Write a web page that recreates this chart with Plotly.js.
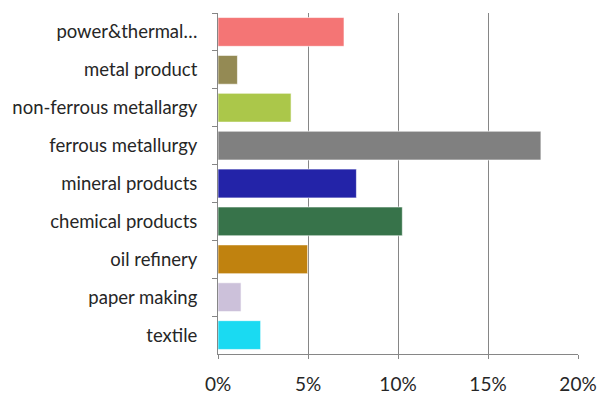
<!DOCTYPE html>
<html>
<head>
<meta charset="utf-8">
<script src="https://cdn.plot.ly/plotly-3.0.1.min.js"></script>
<style>html,body{margin:0;padding:0;background:#fff;}#chart{width:597px;height:394px;}</style>
</head>
<body>
<div id="chart"></div>
<script>
const categories = ["power&thermal…", "metal product", "non-ferrous metallargy", "ferrous metallurgy", "mineral products", "chemical products", "oil refinery", "paper making", "textile"];
const shares = [7.0, 1.08, 4.06, 17.94, 7.69, 10.24, 4.98, 1.28, 2.37];
const barColors = ["#F47575", "#948A54", "#ABC74A", "#808080", "#2323A8", "#37734A", "#C0820F", "#CCC1DA", "#1ADAF2"];
const xTicks = [0, 5, 10, 15, 20];

const trace = {
  type: "bar",
  orientation: "h",
  y: categories,
  x: shares,
  marker: {color: barColors, line: {color: "rgba(255,255,255,0.6)", width: 1}},
  hoverinfo: "none"
};

const layout = {
  width: 597, height: 394,
  margin: {l: 218, r: 19, t: 13, b: 40, pad: 0},
  paper_bgcolor: "#fff", plot_bgcolor: "#fff",
  bargap: 0.24,
  showlegend: false,
  font: {family: "Lato, 'Open Sans', sans-serif", size: 18.5, color: "#262626"},
  xaxis: {
    range: [0, 20],
    tickvals: xTicks,
    ticktext: xTicks.map(v => v + "%"),
    showgrid: true, gridcolor: "#868686", gridwidth: 1,
    zeroline: false,
    showline: true, linecolor: "#868686", linewidth: 1,
    ticks: "outside", ticklen: 4, tickcolor: "#868686",
    ticklabelstandoff: 9,
    tickfont: {size: 19, color: "#262626"},
    fixedrange: true
  },
  yaxis: {
    type: "category",
    autorange: "reversed",
    showgrid: false, zeroline: false,
    showline: true, linecolor: "#868686", linewidth: 1,
    ticks: "outside", ticklen: 5, tickcolor: "#868686",
    tickson: "boundaries",
    ticklabelstandoff: 16,
    tickfont: {size: 18.5, color: "#262626"},
    fixedrange: true
  }
};

Plotly.newPlot("chart", [trace], layout, {displayModeBar: false, staticPlot: true});
</script>
</body>
</html>
